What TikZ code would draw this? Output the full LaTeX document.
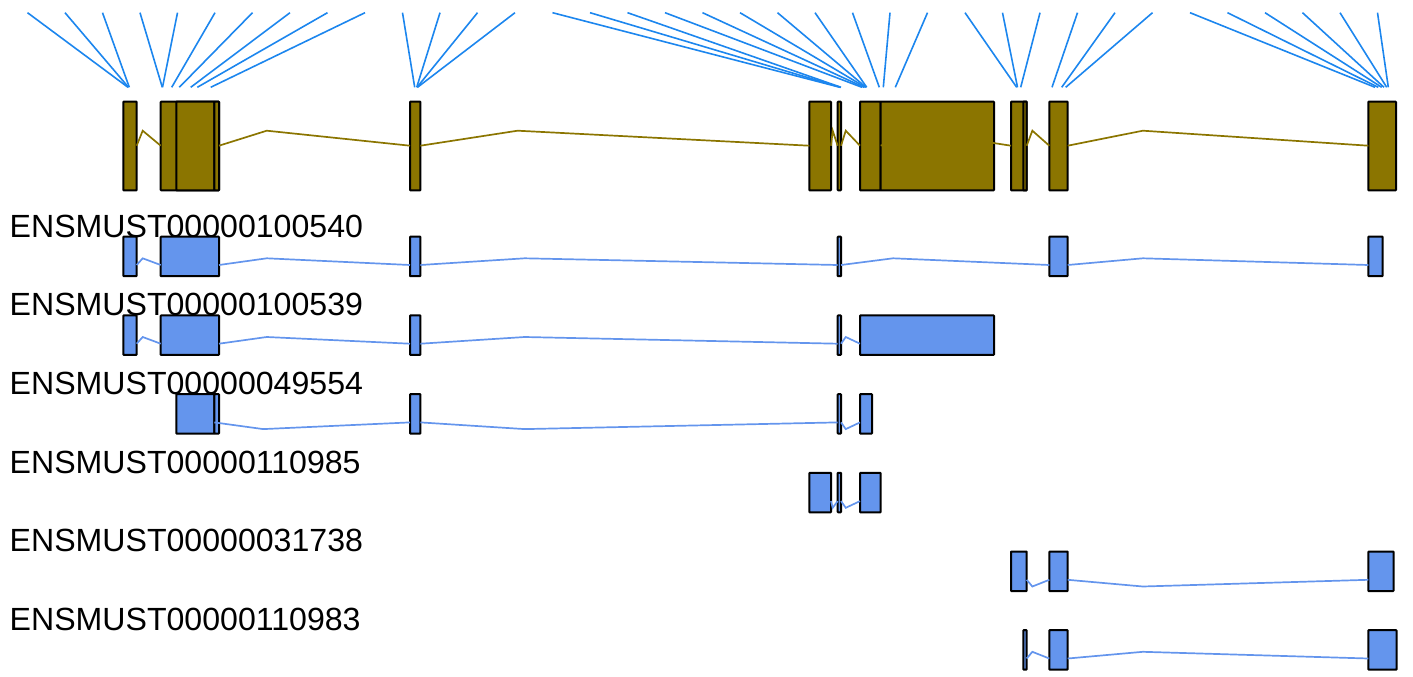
\documentclass[tikz,border=0pt]{standalone}
\usepackage{fontspec}
\setmainfont{Liberation Sans}
\definecolor{goldfour}{HTML}{8B7500}
\definecolor{cfblue}{HTML}{6495ED}
\definecolor{probeblue}{HTML}{1C86EE}
\newcommand\myintron[5]{\draw[#5] (#1,#3) -- ({#1+0.25*(#2-#1)},#4) -- (#2,#3);}
\begin{document}
\begin{tikzpicture}[x=1pt,y=-1pt,
  probeline/.style={draw=probeblue,line width=1.6pt},
  gexon/.style={fill=goldfour,draw=black,line width=2pt,rounded corners=0.6pt},
  texon/.style={fill=cfblue,draw=black,line width=2pt,rounded corners=0.6pt},
  gintron/.style={draw=goldfour,line width=1.7pt},
  tintron/.style={draw=cfblue,line width=1.7pt},
  tlabel/.style={anchor=base west,inner sep=0pt,font=\fontsize{32.1}{38}\selectfont}]
\useasboundingbox (0,0) rectangle (1413,677);
% probe lines
\foreach \b [count=\i from 0] in {128,128.5,129.3,162.3,162.5,171.7,179.3,190.7,197.3,210.7,
  414.7,416.7,417,417.5,840,840.5,841,862,864,865.5,866,866.7,879.3,883.3,895.3,
  1016.7,1017.5,1020.7,1052,1061.7,1065.7,1375,1378.3,1381.7,1384,1386.7,1388.3}
  {\draw[probeline] ({27.5+37.5*\i},12.7) -- (\b,87.3);}
% gene track
\foreach \a/\c in {123.3/136.7,160.7/219,176.3/214.3,214.3/219,410/420.4,809.3/831,837.7/841,
  860/880.7,880.7/994,1011/1026.7,1023.3/1026.7,1049.3/1067.7,1368.3/1396}
  {\draw[gexon] (\a,101.7) rectangle (\c,190.3);}
\foreach \a/\c in {136.7/160.7,219/410,420.4/809.3,831/837.7,841/860,880.7/1011,1026.7/1049.3,1067.7/1368.3}
  {\myintron{\a}{\c}{145.7}{130.7}{gintron}}
% T1 ENSMUST00000100540
\node[tlabel] (l1) at (9.5,237) {ENSMUST00000100540};
\foreach \a/\c in {123.3/136.7,160.7/219,410/420.4,837.7/841,1049.3/1067.7,1368.3/1382.7}
  {\draw[texon] (\a,236.7) rectangle (\c,276.2);}
\foreach \a/\c in {136.7/160.7,219/410,420.4/837.7,841/1049.3,1067.7/1368.3}
  {\myintron{\a}{\c}{265}{258.3}{tintron}}
% T2 ENSMUST00000100539
\node[tlabel] (l2) at (9.5,315.7) {ENSMUST00000100539};
\foreach \a/\c in {123.3/136.7,160.7/219,410/420.4,837.7/841,860/994}
  {\draw[texon] (\a,315.4) rectangle (\c,354.9);}
\foreach \a/\c in {136.7/160.7,219/410,420.4/837.7,841/860}
  {\myintron{\a}{\c}{343.7}{337}{tintron}}
% T3 ENSMUST00000049554
\node[tlabel] (l3) at (9.5,394.4) {ENSMUST00000049554};
\foreach \a/\c in {176.3/214.3,214.3/219,410/420.4,837.7/841,860/872}
  {\draw[texon] (\a,394.1) rectangle (\c,433.6);}
\foreach \a/\c in {214.3/410,420.4/837.7,841/860}
  {\myintron{\a}{\c}{422.4}{429.1}{tintron}}
% T4 ENSMUST00000110985
\node[tlabel] (l4) at (9.5,473.1) {ENSMUST00000110985};
\foreach \a/\c in {809.3/831,837.7/841,860/880.7}
  {\draw[texon] (\a,472.8) rectangle (\c,512.3);}
\foreach \a/\c in {831/837.7,841/860}
  {\myintron{\a}{\c}{501.1}{507.8}{tintron}}
% T5 ENSMUST00000031738
\node[tlabel] (l5) at (9.5,551.8) {ENSMUST00000031738};
\foreach \a/\c in {1011/1026.7,1049.3/1067.7,1368.3/1393.5}
  {\draw[texon] (\a,551.5) rectangle (\c,591);}
\foreach \a/\c in {1026.7/1049.3,1067.7/1368.3}
  {\myintron{\a}{\c}{579.8}{586.5}{tintron}}
% T6 ENSMUST00000110983
\node[tlabel] (l6) at (9.5,630.5) {ENSMUST00000110983};
\foreach \a/\c in {1023.3/1026.7,1049.3/1067.7,1368.3/1396.5}
  {\draw[texon] (\a,630.2) rectangle (\c,669.7);}
\foreach \a/\c in {1026.7/1049.3,1067.7/1368.3}
  {\myintron{\a}{\c}{658.5}{651.8}{tintron}}
\end{tikzpicture}
\end{document}
